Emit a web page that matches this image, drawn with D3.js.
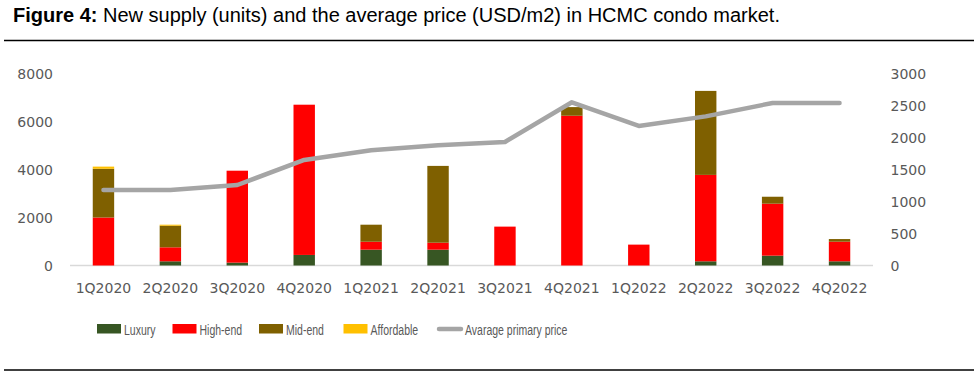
<!DOCTYPE html>
<html>
<head>
<meta charset="utf-8">
<script src="https://cdn.jsdelivr.net/npm/d3@7"></script>
<style>
	body { margin: 0; background: #fff; }
	svg { display: block; }
	.tick-label { font-family: "DejaVu Sans", sans-serif; font-size: 14px; fill: #595959; }
	.legend-label { font-family: "Liberation Sans", Arial, sans-serif; font-size: 15px; fill: #595959; }
</style>
</head>
<body>
<div id="wrapper"></div>
<script>
// data
const quarters = ["1Q2020","2Q2020","3Q2020","4Q2020","1Q2021","2Q2021","3Q2021","4Q2021","1Q2022","2Q2022","3Q2022","4Q2022"];
const luxury     = [0, 175, 120, 440, 660, 660, 0, 0, 0, 175, 410, 175];
const highEnd    = [2000, 583, 3830, 6260, 330, 290, 1620, 6240, 870, 3600, 2165, 817];
const midEnd     = [2030, 900, 0, 0, 710, 3200, 0, 360, 0, 3500, 290, 110];
const affordable = [90, 42, 0, 0, 0, 0, 0, 0, 0, 0, 0, 0];
const avgPrice   = [1180, 1180, 1258, 1650, 1800, 1880, 1930, 2550, 2180, 2330, 2540, 2540];

const leftTicks  = [0, 2000, 4000, 6000, 8000];
const rightTicks = [0, 500, 1000, 1500, 2000, 2500, 3000];

const seriesNames  = ["Luxury", "High-end", "Mid-end", "Affordable"];
const seriesColors = ["#375623", "#ff0000", "#7f6000", "#ffc000"];
const lineName  = "Avarage primary price";
const lineColor = "#a5a5a5";

function drawChart(){

	// dimensions
	let dimensions = {
		width: 979,
		height: 376,
		plot: { left: 70, right: 873, top: 73.5, bottom: 265.5 }
	};

	let svg = d3.select("#wrapper")
				.append("svg")
				.attr("width", dimensions.width)
				.attr("height", dimensions.height);

	// title + rules
	let title = svg.append("text")
				.attr("x", 13)
				.attr("y", 22)
				.style("font-family", "'Liberation Sans', Arial, sans-serif")
				.style("font-size", "20px")
				.style("fill", "#000");
	title.append("tspan").style("font-weight", "bold").text("Figure 4:");
	title.append("tspan").text(" New supply (units) and the average price (USD/m2) in HCMC condo market.");

	svg.append("line").attr("x1", 4).attr("x2", 974).attr("y1", 40.5).attr("y2", 40.5)
		.attr("stroke", "#000").attr("stroke-width", 1.6);
	svg.append("line").attr("x1", 4).attr("x2", 974).attr("y1", 370).attr("y2", 370)
		.attr("stroke", "#000").attr("stroke-width", 1.6);

	// scales
	const p = dimensions.plot;
	let xScale = d3.scaleBand().domain(quarters).range([p.left, p.right]).padding(0);
	let yLeft  = d3.scaleLinear().domain([0, 8000]).range([p.bottom, p.top]);
	let yRight = d3.scaleLinear().domain([0, 3000]).range([p.bottom, p.top]);
	const barW = xScale.bandwidth() * 0.32;

	// stacked data
	const rows = quarters.map((q, i) => ({
		q: q,
		"Luxury": luxury[i],
		"High-end": highEnd[i],
		"Mid-end": midEnd[i],
		"Affordable": affordable[i]
	}));
	const stacked = d3.stack().keys(seriesNames)(rows);

	// axis baseline
	svg.append("line")
		.attr("x1", p.left).attr("x2", p.right)
		.attr("y1", yLeft(0)).attr("y2", yLeft(0))
		.attr("stroke", "#d9d9d9").attr("stroke-width", 1.5);

	// bars
	svg.append("g").selectAll("g")
		.data(stacked)
		.join("g")
		.attr("fill", (d, i) => seriesColors[i])
		.selectAll("rect")
		.data(d => d)
		.join("rect")
		.attr("x", d => xScale(d.data.q) + xScale.bandwidth() / 2 - barW / 2)
		.attr("width", barW)
		.attr("y", d => yLeft(d[1]))
		.attr("height", d => yLeft(d[0]) - yLeft(d[1]));

	// price line
	const lineGen = d3.line()
		.x((d, i) => xScale(quarters[i]) + xScale.bandwidth() / 2)
		.y(d => yRight(d));

	svg.append("path")
		.datum(avgPrice)
		.attr("d", lineGen)
		.attr("fill", "none")
		.attr("stroke", lineColor)
		.attr("stroke-width", 4.5)
		.attr("stroke-linejoin", "round")
		.attr("stroke-linecap", "round");

	// axes labels
	svg.append("g").selectAll("text")
		.data(leftTicks)
		.join("text")
		.attr("class", "tick-label")
		.attr("x", 53)
		.attr("y", d => yLeft(d) + 5)
		.attr("text-anchor", "end")
		.text(d => d);

	svg.append("g").selectAll("text")
		.data(rightTicks)
		.join("text")
		.attr("class", "tick-label")
		.attr("x", 890.5)
		.attr("y", d => yRight(d) + 5)
		.attr("text-anchor", "start")
		.text(d => d);

	svg.append("g").selectAll("text")
		.data(quarters)
		.join("text")
		.attr("class", "tick-label")
		.attr("x", d => xScale(d) + xScale.bandwidth() / 2)
		.attr("y", 293)
		.attr("text-anchor", "middle")
		.text(d => d);

	// legend (narrow text like the original's condensed font)
	const squeeze = 0.7;
	const legendX = [97, 172.5, 259, 343.5];
	let legend = svg.append("g");
	seriesNames.forEach((name, i) => {
		legend.append("rect")
			.attr("x", legendX[i]).attr("y", 324)
			.attr("width", 24).attr("height", 9.5)
			.attr("fill", seriesColors[i]);
		legend.append("text")
			.attr("class", "legend-label")
			.attr("transform", `translate(${legendX[i] + 27},334.5) scale(${squeeze},1)`)
			.text(name);
	});
	legend.append("line")
		.attr("x1", 439).attr("x2", 461)
		.attr("y1", 329).attr("y2", 329)
		.attr("stroke", lineColor).attr("stroke-width", 4.5)
		.attr("stroke-linecap", "round");
	legend.append("text")
		.attr("class", "legend-label")
		.attr("transform", `translate(465,334.5) scale(${squeeze},1)`)
		.text(lineName);
}

drawChart();
</script>
</body>
</html>
